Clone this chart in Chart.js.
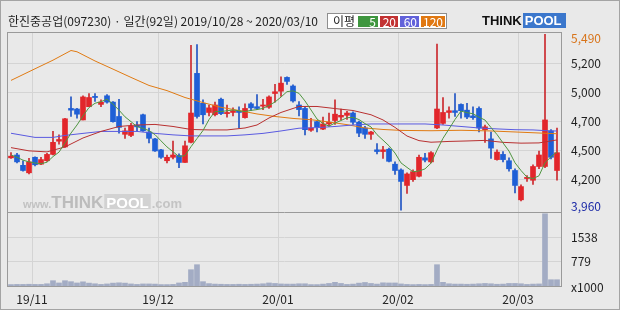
<!DOCTYPE html>
<html>
<head>
<meta charset="utf-8">
<script src="https://cdn.jsdelivr.net/npm/chart.js@4.4.0/dist/chart.umd.min.js"></script>
<style>
  body { margin: 0; background: #e9e9e9; }
  #wrap { position: relative; width: 620px; height: 310px; background: #e9e9e9; overflow: hidden;
          font-family: 'Noto Sans CJK KR', 'Noto Sans', sans-serif; }
  #c { position: absolute; left: 0; top: 0; }
  #edge { position: absolute; left: 0; top: 0; width: 620px; height: 310px; box-sizing: border-box;
          border: 1px solid #a4a4a4; pointer-events: none; }
  #title { position: absolute; left: 8px; top: 12px; font-size: 12px; line-height: 18px; color: #1e1e1e; white-space: nowrap; }
  #legend { position: absolute; left: 327px; top: 13px; width: 120px; height: 16px; box-sizing: border-box;
            background: #fff; border: 1px solid #8e8e8e; font-size: 12px; line-height: 14px; color: #222; }
  #legend span { position: absolute; top: 2px; height: 11px; line-height: 11px; color: #fff; text-align: right;
                 padding-right: 2px; box-sizing: border-box; }
  #legend .lt { left: 5px; top: 0; height: 14px; line-height: 14px; color: #222; }
  #logo { position: absolute; left: 482px; top: 15px; height: 13px; font-family: 'Liberation Sans', Arial, sans-serif;
          font-weight: bold; font-size: 13px; line-height: 12px; white-space: nowrap; }
  #logo .t { color: #111; letter-spacing: 0px; }
  #logo .p { color: #fff; background: #3b77cc; padding: 0 4px 0 2px; margin-left: 1px; }
</style>
</head>
<body>
<div id="wrap">
  <canvas id="c" width="620" height="310"></canvas>
  <div id="title">한진중공업(097230) · 일간(92일) 2019/10/28 ~ 2020/03/10</div>
  <div id="legend"><span class="lt">이평</span></div>
  <div id="logo"><span class="t">THINK</span><span class="p">POOL</span></div>
  <div id="edge"></div>
</div>
<script>
// 한진중공업 일봉, 2019/10/28 ~ 2020/03/10 (92 거래일)
const opens = [4415,4440,4350,4285,4420,4360,4390,4445,4560,4510,
  4845,4840,4745,4860,4950,4880,4955,4900,4775,4620,
  4610,4700,4790,4640,4580,4485,4390,4420,4435,4375,
  4550,5150,4890,4810,4790,4925,4800,4810,4820,4765,
  4885,4860,4865,4855,4975,4995,5115,5040,4875,4845,
  4655,4730,4665,4710,4740,4770,4785,4805,4725,4675,
  4620,4485,4470,4490,4360,4310,4175,4225,4255,4415,
  4380,4675,4715,4810,4825,4880,4830,4780,4845,4660,
  4580,4400,4445,4390,4305,4050,4235,4220,4340,4340,
  4650,4305];
const highs = [4460,4455,4390,4410,4425,4420,4455,4645,4615,4760,
  4945,4845,4955,4975,4975,4920,4965,4905,4925,4675,
  4715,4730,4795,4675,4585,4490,4440,4560,4450,4560,
  5395,5400,4920,4875,4900,4935,4875,4850,4860,4885,
  4895,4965,4925,4955,5055,5120,5120,5050,4905,4855,
  4760,4735,4770,4805,4920,4840,4820,4815,4735,4690,
  4645,4540,4515,4500,4380,4320,4285,4310,4440,4455,
  4470,5405,4940,4860,4975,4885,4890,4860,4860,4700,
  4640,4485,4470,4415,4320,4180,4260,4355,4475,5490,
  4660,4675];
const lows = [4410,4370,4300,4275,4345,4355,4385,4440,4535,4505,
  4775,4760,4745,4860,4905,4860,4890,4725,4630,4585,
  4600,4650,4645,4545,4470,4410,4370,4405,4330,4375,
  4545,4760,4710,4780,4780,4790,4770,4780,4675,4760,
  4825,4835,4835,4845,4900,4950,5055,4900,4780,4615,
  4645,4640,4660,4690,4705,4745,4750,4705,4600,4585,
  4575,4450,4410,4380,4270,3960,4105,4210,4250,4380,
  4370,4670,4705,4760,4775,4760,4755,4750,4640,4550,
  4410,4395,4380,4300,4110,4040,4210,4185,4320,4330,
  4405,4220];
const closes = [4430,4380,4305,4380,4355,4400,4445,4550,4575,4755,
  4830,4795,4945,4940,4940,4900,4900,4730,4680,4650,
  4690,4685,4650,4585,4475,4420,4420,4440,4375,4520,
  4805,4775,4790,4850,4875,4800,4810,4825,4810,4845,
  4850,4845,4875,4945,4990,5065,5080,4910,4835,4660,
  4675,4685,4710,4725,4795,4785,4805,4725,4630,4620,
  4640,4470,4485,4385,4305,4210,4275,4295,4420,4395,
  4460,4840,4810,4825,4810,4825,4770,4765,4675,4685,
  4500,4465,4400,4320,4175,4165,4245,4340,4440,4745,
  4420,4460];
// 거래량 (천주)
const volumes = [75,80,80,85,80,80,100,195,125,195,
  165,125,160,120,100,80,95,120,130,120,
  95,80,95,95,90,75,75,80,125,145,
  535,690,165,105,90,85,80,80,85,80,
  85,90,100,125,110,95,90,90,100,100,
  75,75,90,110,145,110,80,90,120,140,
  110,90,130,125,125,95,80,75,80,75,
  80,690,145,100,90,90,85,90,100,110,
  100,85,90,110,110,100,80,90,95,2265,
  225,225];

// 이동평균선
const ma5 = [4440,4420,4395,4380,4370,4364,4377,4426,4465,4545,
  4631,4701,4780,4853,4890,4904,4925,4882,4830,4772,
  4730,4687,4671,4652,4617,4563,4510,4468,4426,4435,
  4512,4583,4653,4748,4819,4818,4825,4832,4824,4818,
  4828,4835,4845,4872,4901,4944,4991,4998,4976,4910,
  4832,4753,4713,4691,4718,4740,4764,4767,4748,4713,
  4684,4617,4569,4520,4457,4371,4332,4294,4301,4319,
  4369,4482,4585,4666,4749,4822,4808,4799,4769,4744,
  4679,4618,4545,4474,4372,4305,4247,4235,4259,4373,
  4424,4467];
const ma20Days = [0,3,6,9,12,15,18,21,24,27,30,33,36,39,41,43,45,48,51,54,57,60,62,64,66,68,70,73,76,79,82,85,88,91];
const ma20 = [4504,4476,4467,4510,4588,4645,4688,4701,4706,4688,4662,4658,4658,4675,4701,4762,4810,4862,4862,4844,4827,4790,4745,4680,4605,4565,4551,4558,4562,4567,4550,4543,4545,4571];
const ma60Days = [0,4,7,9,12,15,18,21,24,27,30,33,36,39,42,45,48,51,54,57,60,63,66,69,72,75,78,81,84,87,90,91];
const ma60 = [4629,4593,4593,4610,4628,4645,4645,4645,4628,4615,4606,4606,4606,4615,4628,4649,4673,4678,4688,4701,4710,4710,4710,4710,4701,4688,4675,4667,4660,4658,4649,4649];
const ma120Days = [0,4,7,10,11,14,17,20,23,26,29,32,35,38,41,44,47,50,53,56,59,62,65,70,75,80,85,89,91];
const ma120 = [5089,5190,5265,5349,5338,5258,5187,5115,5045,5000,4940,4896,4855,4827,4797,4775,4758,4747,4727,4704,4675,4662,4654,4651,4655,4649,4638,4629,4625];

const maLabels = ['5', '20', '60', '120'];
const maColors = ['#3f963f', '#c23232', '#6262da', '#e07812'];

// 축 눈금
const monthStart = [4, 25, 45, 65, 85];
const monthLabels = ['19/11', '19/12', '20/01', '20/02', '20/03'];
const priceTicks = [3993, 4224, 4476, 4730, 4981, 5236, 5453];
const priceTickLabels = ['3,960', '4,200', '4,500', '4,700', '5,000', '5,200', '5,490'];
const volTicks = [0, 779, 1538];
const volTickLabels = ['x1000', '779', '1538'];

// 범례 박스
const legendBox = document.getElementById('legend');
const boxLeft = [30, 52, 72, 93], boxWidth = [20, 18, 19, 24];
maLabels.forEach((t, i) => {
    const s = document.createElement('span');
    s.textContent = t;
    s.style.left = boxLeft[i] + 'px';
    s.style.width = boxWidth[i] + 'px';
    s.style.background = maColors[i];
    legendBox.appendChild(s);
});

const RED = '#e2262b', BLUE = '#1f5fd6';
const RED_W = '#cc2a2e', BLUE_W = '#2155c4';
const GRID = '#d4d4d4';
const up = closes.map((c, i) => c >= opens[i]);

function maLine(days, vals, color) {
    return {
        type: 'line',
        data: days.map((d, i) => ({x: d, y: vals[i]})),
        borderColor: color,
        borderWidth: 1,
        pointRadius: 0,
        tension: 0,
        yAxisID: 'y',
        order: 0,
    };
}

// 프레임과 워터마크
const framePlugin = {
    id: 'frame',
    beforeDatasetsDraw(chart) {
        const ctx = chart.ctx, a = chart.chartArea;
        const x0 = a.left + 16, yb = chart.scales.y.bottom - 4;
        ctx.save();
        ctx.textBaseline = 'alphabetic';
        ctx.fillStyle = '#c2c2c2';
        ctx.font = 'bold 11px "Liberation Sans", sans-serif';
        ctx.fillText('www.', x0, yb);
        let x = x0 + ctx.measureText('www.').width;
        ctx.font = 'bold 17px "Liberation Sans", sans-serif';
        ctx.fillStyle = '#bcbcbc';
        ctx.fillText('THINK', x, yb);
        x += ctx.measureText('THINK').width + 1;
        ctx.font = 'bold 15px "Liberation Sans", sans-serif';
        const pw = ctx.measureText('POOL').width;
        ctx.fillStyle = '#d2d2d2';
        ctx.fillRect(x, yb - 14, pw + 4, 15);
        ctx.fillStyle = '#ffffff';
        ctx.fillText('POOL', x + 2, yb);
        x += pw + 5;
        ctx.font = 'bold 13px "Liberation Sans", sans-serif';
        ctx.fillStyle = '#c4c4c4';
        ctx.fillText('.com', x, yb);
        ctx.restore();
    },
    afterDraw(chart) {
        const ctx = chart.ctx, a = chart.chartArea;
        const mid = Math.round(chart.scales.y.bottom) + 0.5;
        ctx.save();
        ctx.strokeStyle = '#9a9a9a';
        ctx.lineWidth = 1;
        ctx.strokeRect(a.left + 0.5, a.top + 0.5, a.right - a.left - 1, a.bottom - a.top - 1);
        ctx.beginPath();
        ctx.moveTo(a.left, mid);
        ctx.lineTo(a.right, mid);
        ctx.stroke();
        ctx.restore();
    }
};

Chart.defaults.font.family = "'Noto Sans CJK KR', 'Noto Sans', sans-serif";
Chart.defaults.font.size = 12;
Chart.defaults.color = '#1e1e1e';

new Chart(document.getElementById('c'), {
    data: {
        datasets: [
            maLine(ma5.map((v, i) => i), ma5, '#4f9540'),
            maLine(ma20Days, ma20, '#b83030'),
            maLine(ma60Days, ma60, '#5a5ae0'),
            maLine(ma120Days, ma120, '#e07a12'),
            {
                // 몸통
                type: 'bar',
                data: closes.map((c, i) => ({x: i, y: [opens[i], c]})),
                backgroundColor: up.map(u => u ? RED : BLUE),
                barThickness: 5,
                minBarLength: 1,
                grouped: false,
                yAxisID: 'y',
                order: 3,
            },
            {
                // 꼬리
                type: 'bar',
                data: highs.map((h, i) => ({x: i, y: [lows[i], h]})),
                backgroundColor: up.map(u => u ? RED_W : BLUE_W),
                barThickness: 1,
                grouped: false,
                yAxisID: 'y',
                order: 4,
            },
            {
                // 거래량
                type: 'bar',
                data: volumes.map((v, i) => ({x: i, y: v})),
                backgroundColor: '#a3acc4',
                barThickness: 5,
                grouped: false,
                yAxisID: 'yv',
                order: 5,
            },
        ]
    },
    options: {
        responsive: false,
        animation: false,
        devicePixelRatio: 1,
        layout: { padding: { left: 7, top: 32, right: 0, bottom: 0 } },
        plugins: {
            legend: { display: false },
            tooltip: { enabled: false },
        },
        scales: {
            x: {
                type: 'linear',
                offset: false,
                min: -0.667,
                max: 91.833,
                afterBuildTicks: s => { s.ticks = monthStart.map(d => ({value: d - 0.5})); },
                afterFit: s => { s.height = 23; },
                ticks: {
                    callback: (v, i) => monthLabels[i],
                    autoSkip: false,
                    maxRotation: 0,
                    padding: 5,
                    color: '#222',
                },
                grid: { color: GRID, drawTicks: false, offset: false },
                border: { display: false },
            },
            y: {
                position: 'right',
                stack: 'panel',
                stackWeight: 180,
                min: 3944,
                max: 5510,
                afterBuildTicks: s => { s.ticks = priceTicks.map(v => ({value: v})); },
                afterFit: s => { s.width = 58; },
                ticks: {
                    callback: (v, i) => priceTickLabels[i],
                    autoSkip: false,
                    padding: 9,
                    color: ctx => ctx.index === 0 ? '#1c2aa6' : (ctx.index === priceTicks.length - 1 ? '#d8741a' : '#1e1e1e'),
                },
                grid: {
                    color: ctx => (ctx.index === 0 || ctx.index === priceTicks.length - 1) ? 'rgba(0,0,0,0)' : GRID,
                    drawTicks: false,
                },
                border: { display: false },
            },
            yv: {
                position: 'right',
                stack: 'panel',
                stackWeight: 75,
                min: 0,
                max: 2320,
                afterBuildTicks: s => { s.ticks = volTicks.map(v => ({value: v})); },
                afterFit: s => { s.width = 58; },
                ticks: {
                    callback: (v, i) => volTickLabels[i],
                    autoSkip: false,
                    padding: 9,
                    color: '#1e1e1e',
                },
                grid: {
                    color: ctx => ctx.index === 0 ? 'rgba(0,0,0,0)' : GRID,
                    drawTicks: false,
                },
                border: { display: false },
            },
        }
    },
    plugins: [framePlugin]
});
</script>
</body>
</html>
